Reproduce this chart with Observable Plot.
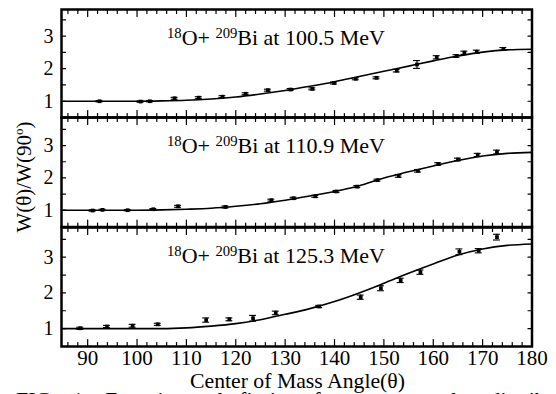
<!DOCTYPE html>
<html><head><meta charset="utf-8">
<script src="https://cdn.jsdelivr.net/npm/d3@7"></script>
<script src="https://cdn.jsdelivr.net/npm/@observablehq/plot@0.6"></script>
<style>
body{margin:0;background:#fff}
#wrap{position:relative;width:556px;height:394px;overflow:hidden;background:#fff;font-family:"Liberation Serif",serif}
#wrap svg{position:absolute;left:0}
</style>
</head><body><div id="wrap"></div>
<script>
// ---- data ----
const energies = ["100.5 MeV", "110.9 MeV", "125.3 MeV"];

const angles1 = [92.4,100.7,102.6,107.6,112.5,117.3,122.0,126.5,131.1,135.5,139.9,144.3,148.5,152.6,156.7,160.7,164.7,166.3,168.8,174.2];
const ratio1  = [1.00,0.99,1.00,1.09,1.11,1.14,1.23,1.34,1.36,1.38,1.56,1.69,1.72,1.94,2.13,2.35,2.39,2.49,2.52,2.61];
const err1    = [0.02,0.02,0.02,0.03,0.03,0.03,0.03,0.03,0.03,0.03,0.03,0.03,0.03,0.04,0.12,0.05,0.04,0.05,0.05,0.04];

const angles2 = [91.0,93.0,98.1,103.3,108.3,117.9,127.2,131.7,136.1,140.4,144.6,148.7,153.0,156.9,161.0,165.0,169.0,172.9];
const ratio2  = [0.99,1.01,1.00,1.03,1.12,1.10,1.31,1.37,1.43,1.58,1.73,1.93,2.06,2.22,2.43,2.57,2.71,2.80];
const err2    = [0.02,0.02,0.02,0.02,0.03,0.03,0.03,0.03,0.03,0.03,0.03,0.03,0.04,0.04,0.04,0.04,0.05,0.06];

const angles3 = [88.5,93.9,99.1,104.2,114.0,118.7,123.5,128.1,136.9,145.3,149.4,153.4,157.4,165.3,169.2,172.9];
const ratio3  = [1.01,1.06,1.08,1.12,1.24,1.26,1.29,1.44,1.62,1.88,2.13,2.35,2.58,3.15,3.18,3.56];
const err3    = [0.03,0.03,0.04,0.03,0.06,0.04,0.08,0.05,0.03,0.06,0.07,0.06,0.06,0.08,0.06,0.08];

const fitAngles = [85,90,95,100,105,110,115,120,125,130,135,140,145,150,155,160,165,170,175,180];
const fit1 = [1,1,1,1,1.01,1.03,1.07,1.13,1.22,1.33,1.46,1.60,1.76,1.92,2.08,2.24,2.39,2.51,2.58,2.60];
const fit2 = [1,1,1,1,1.01,1.03,1.06,1.12,1.20,1.31,1.44,1.58,1.76,2.00,2.19,2.37,2.54,2.68,2.76,2.79];
const fit3 = [1,1,1,1,1.00,1.02,1.07,1.14,1.25,1.40,1.56,1.76,2.00,2.27,2.55,2.81,3.06,3.23,3.33,3.37];

const xTickLabels = [90,100,110,120,130,140,150,160,170,180];
const xMinorTicks = d3.range(86, 180, 2).filter(v => v % 10 !== 0);
const yTickLabels = [1,2,3];
const yTicks = [1,1.5,2,2.5,3,3.5];
const xTitle = "Center of Mass Angle(θ)";
const captionText = "FIG. 1: Experimental fission fragment angular distributions";

// ---- layout ----
const layout = [
  {top: 9,   h: 108,   domain: [0.5, 3.82]},
  {top: 117, h: 109.5, domain: [0.48, 3.87]},
  {top: 227, h: 119,   domain: [0.5, 3.83]}
];
const series = [
  {angles: angles1, ratio: ratio1, err: err1, fit: fit1},
  {angles: angles2, ratio: ratio2, err: err2, fit: fit2},
  {angles: angles3, ratio: ratio3, err: err3, fit: fit3}
];
const tickShape = {draw(ctx, l) { ctx.moveTo(0, 0); ctx.lineTo(0, -l); }};
const wrap = document.getElementById("wrap");
const FONT = "Liberation Serif";

series.forEach((s, i) => {
  const L = layout[i];
  const last = i === 2;
  const mt = 10, mb = last ? 48 : 10;
  const rows = s.angles.map((a, j) => ({a, r: s.ratio[j], e: s.err[j]}));
  const fitRows = fitAngles.map((a, j) => ({a, r: s.fit[j]}));
  const tk = (data, o) => Plot.vector(data, {shape: tickShape, anchor: "start", stroke: "black", strokeWidth: 1.2, ...o});
  const svg = Plot.plot({
    width: 556, height: L.h + mt + mb,
    marginLeft: 61, marginRight: 24.5, marginTop: mt, marginBottom: mb,
    x: {domain: [84.7, 180], axis: null},
    y: {domain: L.domain, axis: null},
    style: {background: "transparent", fontFamily: FONT, overflow: "visible", color: "black"},
    marks: [
      Plot.line(fitRows, {x: "a", y: "r", curve: "monotone-x", stroke: "black", strokeWidth: 1.6}),
      Plot.ruleX(rows, {x: "a", y1: d => d.r - d.e, y2: d => d.r + d.e, stroke: "black", strokeWidth: 1.1}),
      Plot.ruleY(rows, {y: d => d.r - d.e, x1: d => d.a - 0.7, x2: d => d.a + 0.7, stroke: "black", strokeWidth: 1.1}),
      Plot.ruleY(rows, {y: d => d.r + d.e, x1: d => d.a - 0.7, x2: d => d.a + 0.7, stroke: "black", strokeWidth: 1.1}),
      Plot.dot(rows, {x: "a", y: "r", symbol: "square", r: 2.1, fill: "black", stroke: null}),
      tk(xTickLabels, {x: d => d, frameAnchor: "bottom", rotate: 0, length: 7}),
      tk(xTickLabels, {x: d => d, frameAnchor: "top", rotate: 180, length: 7}),
      tk(xMinorTicks, {x: d => d, frameAnchor: "bottom", rotate: 0, length: 4}),
      tk(xMinorTicks, {x: d => d, frameAnchor: "top", rotate: 180, length: 4}),
      tk(yTicks, {y: d => d, frameAnchor: "left", rotate: 90, length: 4}),
      tk(yTicks, {y: d => d, frameAnchor: "right", rotate: -90, length: 4}),
      Plot.text(yTickLabels, {y: d => d, text: d => String(d), frameAnchor: "left", dx: -8, textAnchor: "end", fontSize: 20, fill: "black"}),
      last ? Plot.text(xTickLabels, {x: d => d, text: d => String(d), frameAnchor: "bottom", lineAnchor: "top", dy: 4, fontSize: 21, fill: "black"}) : null,
      Plot.frame({stroke: "black", strokeWidth: 2.5})
    ]
  });
  svg.style.top = (L.top - mt) + "px";
  // reaction label with superscripts
  const t = d3.select(svg).append("text")
    .attr("x", 167).attr("y", mt + 35.5).attr("text-anchor", "start")
    .attr("font-family", FONT).attr("font-size", 21).attr("fill", "black")
    .attr("textLength", 218).attr("lengthAdjust", "spacingAndGlyphs");
  t.append("tspan").attr("font-size", 14).attr("dy", -7).text("18");
  t.append("tspan").attr("dy", 7).text("O+ ");
  t.append("tspan").attr("font-size", 14).attr("dy", -7).text("209");
  t.append("tspan").attr("dy", 7).text("Bi at " + energies[i]);
  if (last) {
    d3.select(svg).append("text")
      .attr("x", 297.5).attr("y", mt + L.h + 41.5)
      .attr("text-anchor", "middle").attr("font-family", FONT).attr("font-size", 21)
      .attr("textLength", 215).attr("lengthAdjust", "spacingAndGlyphs")
      .attr("fill", "black").text(xTitle);
  }
  wrap.appendChild(svg);
});

// overlay: y-axis title and clipped caption
const ov = d3.select(wrap).append("svg").attr("width", 556).attr("height", 394)
  .style("top", "0px").style("pointer-events", "none");
const yt = ov.append("text").attr("transform", "translate(31,177) rotate(-90)")
  .attr("text-anchor", "middle").attr("font-family", FONT).attr("font-size", 21).attr("fill", "black");
yt.append("tspan").text("W(θ)/W(90");
yt.append("tspan").attr("font-size", 13).attr("dy", -8).text("o");
yt.append("tspan").attr("dy", 8).text(")");
ov.append("text").attr("x", 16).attr("y", 406.5).attr("font-family", FONT).attr("font-size", 22)
  .attr("word-spacing", 10).attr("fill", "black").text(captionText);
</script></body></html>
